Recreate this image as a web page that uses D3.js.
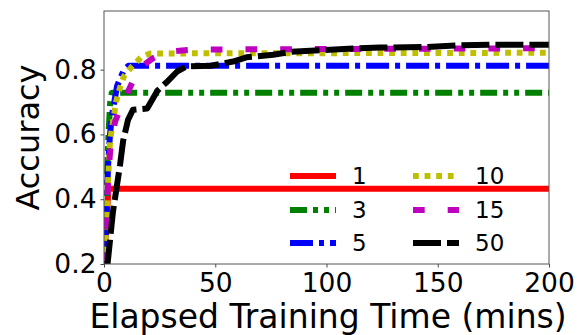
<!DOCTYPE html>
<html>
<head>
<meta charset="utf-8">
<script src="https://cdn.jsdelivr.net/npm/d3@7/dist/d3.min.js"></script>
<style>
  html, body { margin: 0; padding: 0; background: #fff; }
  svg { display: block; font-family: "DejaVu Sans", sans-serif; }
</style>
</head>
<body>
<svg id="chart" width="579" height="335"></svg>
<script>
// ---- data ----
const seriesNames = ["1", "3", "5", "10", "15", "50"];

const time1 = [0, 2, 200];
const acc1  = [0.2, 0.432, 0.432];

const time3 = [0, 1, 2, 2.8, 3.5, 200];
const acc3  = [0.2, 0.40, 0.60, 0.70, 0.729, 0.729];

const time5 = [0, 0.9, 1.8, 2.7, 3.6, 5.9, 9, 11, 200];
const acc5  = [0.2, 0.30, 0.50, 0.60, 0.66, 0.75, 0.80, 0.812, 0.812];

const time10 = [0, 1, 2, 2.7, 5.4, 7.2, 9, 12.6, 16.7, 20.7, 200];
const acc10  = [0.2, 0.32, 0.48, 0.58, 0.70, 0.745, 0.78, 0.81, 0.838, 0.85, 0.852];

const time15 = [0, 1, 2, 3, 5, 8, 11, 14, 18, 22, 28, 40, 200];
const acc15  = [0.2, 0.32, 0.48, 0.57, 0.64, 0.69, 0.735, 0.78, 0.815, 0.835, 0.855, 0.862, 0.866];

const time50 = [0, 1.6, 4, 7.2, 8.6, 10.8, 13, 19.4, 24, 28, 33, 37, 48, 58, 64, 76, 84, 97, 112, 124, 145, 160, 175, 200];
const acc50  = [0.2, 0.2, 0.36, 0.505, 0.58, 0.645, 0.676, 0.68, 0.735, 0.76, 0.795, 0.81, 0.812, 0.825, 0.838, 0.846, 0.855, 0.86, 0.865, 0.868, 0.87, 0.875, 0.877, 0.877];

const xTicks = [0, 50, 100, 150, 200];
const yTicks = [0.2, 0.4, 0.6, 0.8];
const xDomain = [0, 200];
const yDomain = [0.2, 0.981];

// ---- styles ----
const styles = [
  { color: "#ff0000", dash: null },
  { color: "#008000", dash: "17,6,5,6,5,6" },
  { color: "#0000ff", dash: "23,6,5,6" },
  { color: "#bfbf00", dash: "5.8,5.8" },
  { color: "#bf00bf", dash: "11.7,23" },
  { color: "#000000", dash: "28,6" }
];
const seriesTimes = [time1, time3, time5, time10, time15, time50];
const seriesAccs = [acc1, acc3, acc5, acc10, acc15, acc50];

const margin = { left: 104, top: 11, right: 30, bottom: 71 };
const W = 579, H = 335;
const iw = W - margin.left - margin.right;
const ih = H - margin.top - margin.bottom;
const LW = 6;

const svg = d3.select("#chart");
const g = svg.append("g").attr("transform", `translate(${margin.left},${margin.top})`);

const x = d3.scaleLinear().domain(xDomain).range([0, iw]);
const y = d3.scaleLinear().domain(yDomain).range([ih, 0]);

svg.append("defs").append("clipPath").attr("id", "clip")
  .append("rect").attr("x", 0).attr("y", 0).attr("width", iw).attr("height", ih);

const line = d3.line().x(d => x(d[0])).y(d => y(d[1]));

const plot = g.append("g").attr("clip-path", "url(#clip)");
seriesNames.forEach((name, i) => {
  const pts = seriesTimes[i].map((t, j) => [t, seriesAccs[i][j]]);
  plot.append("path")
    .datum(pts)
    .attr("d", line)
    .attr("fill", "none")
    .attr("stroke", styles[i].color)
    .attr("stroke-width", LW)
    .attr("stroke-linecap", "butt")
    .attr("stroke-linejoin", "round")
    .attr("stroke-dasharray", styles[i].dash);
});

// axes
const xAxis = d3.axisBottom(x).tickValues(xTicks).tickFormat(d3.format("d")).tickSize(3.5).tickPadding(6);
const yAxis = d3.axisLeft(y).tickValues(yTicks).tickFormat(d3.format(".1f")).tickSize(3.5).tickPadding(4);

const gx = g.append("g").attr("transform", `translate(0,${ih})`).call(xAxis);
const gy = g.append("g").call(yAxis);
[gx, gy].forEach(a => {
  a.select(".domain").remove();
  a.selectAll("line").attr("stroke", "#333").attr("stroke-width", 0.9);
  a.selectAll("text").attr("font-size", 26.5).attr("fill", "#000")
    .attr("font-family", "DejaVu Sans, sans-serif");
});

// frame
g.append("rect").attr("x", 0).attr("y", 0).attr("width", iw).attr("height", ih)
  .attr("fill", "none").attr("stroke", "#555").attr("stroke-width", 1);

// axis labels
svg.append("text")
  .attr("x", margin.left + iw / 2 + 1.5).attr("y", 328)
  .attr("text-anchor", "middle").attr("font-size", 33).attr("fill", "#000")
  .text("Elapsed Training Time (mins)");
svg.append("text")
  .attr("transform", `translate(39,${margin.top + ih / 2}) rotate(-90)`)
  .attr("text-anchor", "middle").attr("font-size", 32).attr("fill", "#000")
  .text("Accuracy");

// legend
const legendCols = [290, 413];
const legendRows = [176, 210, 243];
const leg = svg.append("g");
seriesNames.forEach((name, i) => {
  const col = Math.floor(i / 3), row = i % 3;
  const lx = legendCols[col], ly = legendRows[row];
  leg.append("line")
    .attr("x1", lx).attr("x2", lx + 46).attr("y1", ly).attr("y2", ly)
    .attr("stroke", styles[i].color).attr("stroke-width", LW)
    .attr("stroke-linecap", "butt")
    .attr("stroke-dasharray", styles[i].dash);
  leg.append("text")
    .attr("x", lx + 62).attr("y", ly).attr("dy", "0.36em")
    .attr("font-size", 23).attr("fill", "#000")
    .text(name);
});
</script>
</body>
</html>
